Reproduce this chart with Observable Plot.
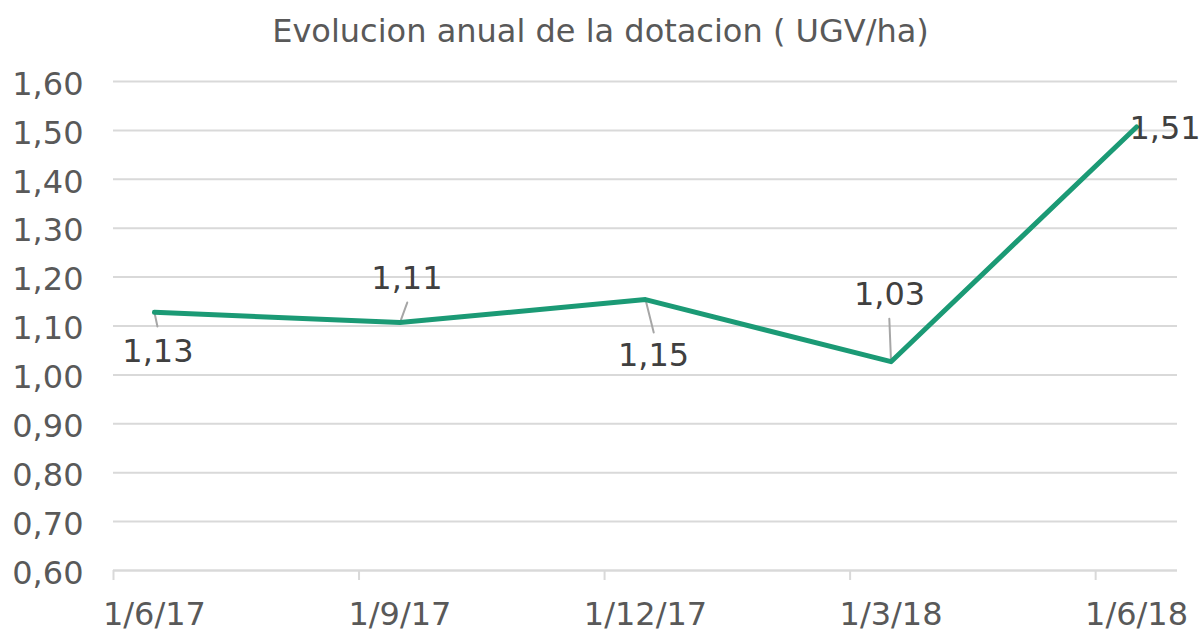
<!DOCTYPE html>
<html>
<head>
<meta charset="utf-8">
<script src="https://cdn.jsdelivr.net/npm/d3@7"></script>
<script src="https://cdn.jsdelivr.net/npm/@observablehq/plot@0.6"></script>
<style>
  html, body { margin: 0; padding: 0; background: #ffffff; }
  #chart { width: 1201px; height: 632px; position: relative; }
  #title {
    width: 1201px; height: 53px; padding-top: 3px;
    line-height: 56px; text-align: center;
    font-family: "DejaVu Sans", Verdana, sans-serif; font-size: 32px;
    color: #595959; white-space: nowrap;
  }
</style>
</head>
<body>
<div id="chart">
  <div id="title">Evolucion anual de la dotacion ( UGV/ha)</div>
</div>
<script>
// ---- data ----
const dates = ["2017-06", "2017-09", "2017-12", "2018-03", "2018-06"];
const values = [1.128, 1.107, 1.154, 1.027, 1.507];
const xTickLabels = ["1/6/17", "1/9/17", "1/12/17", "1/3/18", "1/6/18"];
const yTicks = [0.6, 0.7, 0.8, 0.9, 1.0, 1.1, 1.2, 1.3, 1.4, 1.5, 1.6];

// ---- label placement (pixel offsets from each point) ----
const labelDx = [3.5, 7, 8, -1.5, 28.5];
const labelDy = [39, -43.5, 56.5, -67, 2];
const leaderLength = [14.5, 21.3, 34, 43, 0];
const leaderRotate = [168, 20, 166, -2.3, 0];

// months since June 2017 (Excel date axis, monthly base unit)
const monthStart = s => {
  const [y, m] = s.split("-").map(Number);
  return (y - 2017) * 12 + (m - 6);
};
const comma = v => d3.format(".2f")(v).replace(".", ",");

const data = dates.map((d, i) => ({
  x: monthStart(d) + 0.5, y: values[i], label: comma(values[i]),
  len: leaderLength[i], rot: leaderRotate[i]
}));
const xTicks = dates.map(monthStart);              // tick marks at month boundaries
const xLabelPos = xTicks.map(t => t + 0.5);        // labels centred in the month
const labelAt = new Map(xLabelPos.map((p, i) => [p, xTickLabels[i]]));

const leaderShape = {
  draw(context, l) { context.moveTo(0, 0); context.lineTo(0, -l); }
};

const plot = Plot.plot({
  width: 1201,
  height: 576,
  marginTop: 25,
  marginBottom: 62,
  marginLeft: 113,
  marginRight: 24,
  style: { fontFamily: "DejaVu Sans, Verdana, sans-serif", fontSize: "32px", background: "#ffffff" },
  x: { type: "linear", domain: [0, 13] },
  y: { domain: [0.6, 1.6] },
  length: { type: "identity" },
  marks: [
    Plot.gridY(yTicks, { stroke: "#d9d9d9", strokeOpacity: 1, strokeWidth: 2 }),
    Plot.ruleY([0.6], { stroke: "#d9d9d9", strokeWidth: 2 }),
    Plot.axisX({
      ticks: xTicks, tickSize: 10, tickFormat: () => "",
      stroke: "#d9d9d9", strokeOpacity: 1, strokeWidth: 2, label: null
    }),
    Plot.axisX({
      ticks: xLabelPos, tickSize: 0, tickPadding: 32,
      tickFormat: p => labelAt.get(p),
      fill: "#595959", fontSize: 32, label: null
    }),
    Plot.axisY({
      ticks: yTicks, tickSize: 0, tickPadding: 30, dy: 3,
      tickFormat: comma, fill: "#595959", fontSize: 32, label: null
    }),
    Plot.vector(data.filter(d => d.len > 0), {
      x: "x", y: "y", length: "len", rotate: "rot", anchor: "start",
      shape: leaderShape, stroke: "#a6a6a6", strokeWidth: 2
    }),
    Plot.line(data, {
      x: "x", y: "y", stroke: "#1b9a75", strokeWidth: 5,
      strokeLinejoin: "round", strokeLinecap: "round"
    }),
    ...data.map((d, i) => Plot.text([d], {
      x: "x", y: "y", text: "label", dx: labelDx[i], dy: labelDy[i],
      fill: "#404040", fontSize: 32, textAnchor: "middle", lineAnchor: "middle"
    }))
  ]
});
plot.style.display = "block";
document.getElementById("chart").appendChild(plot);
</script>
</body>
</html>
